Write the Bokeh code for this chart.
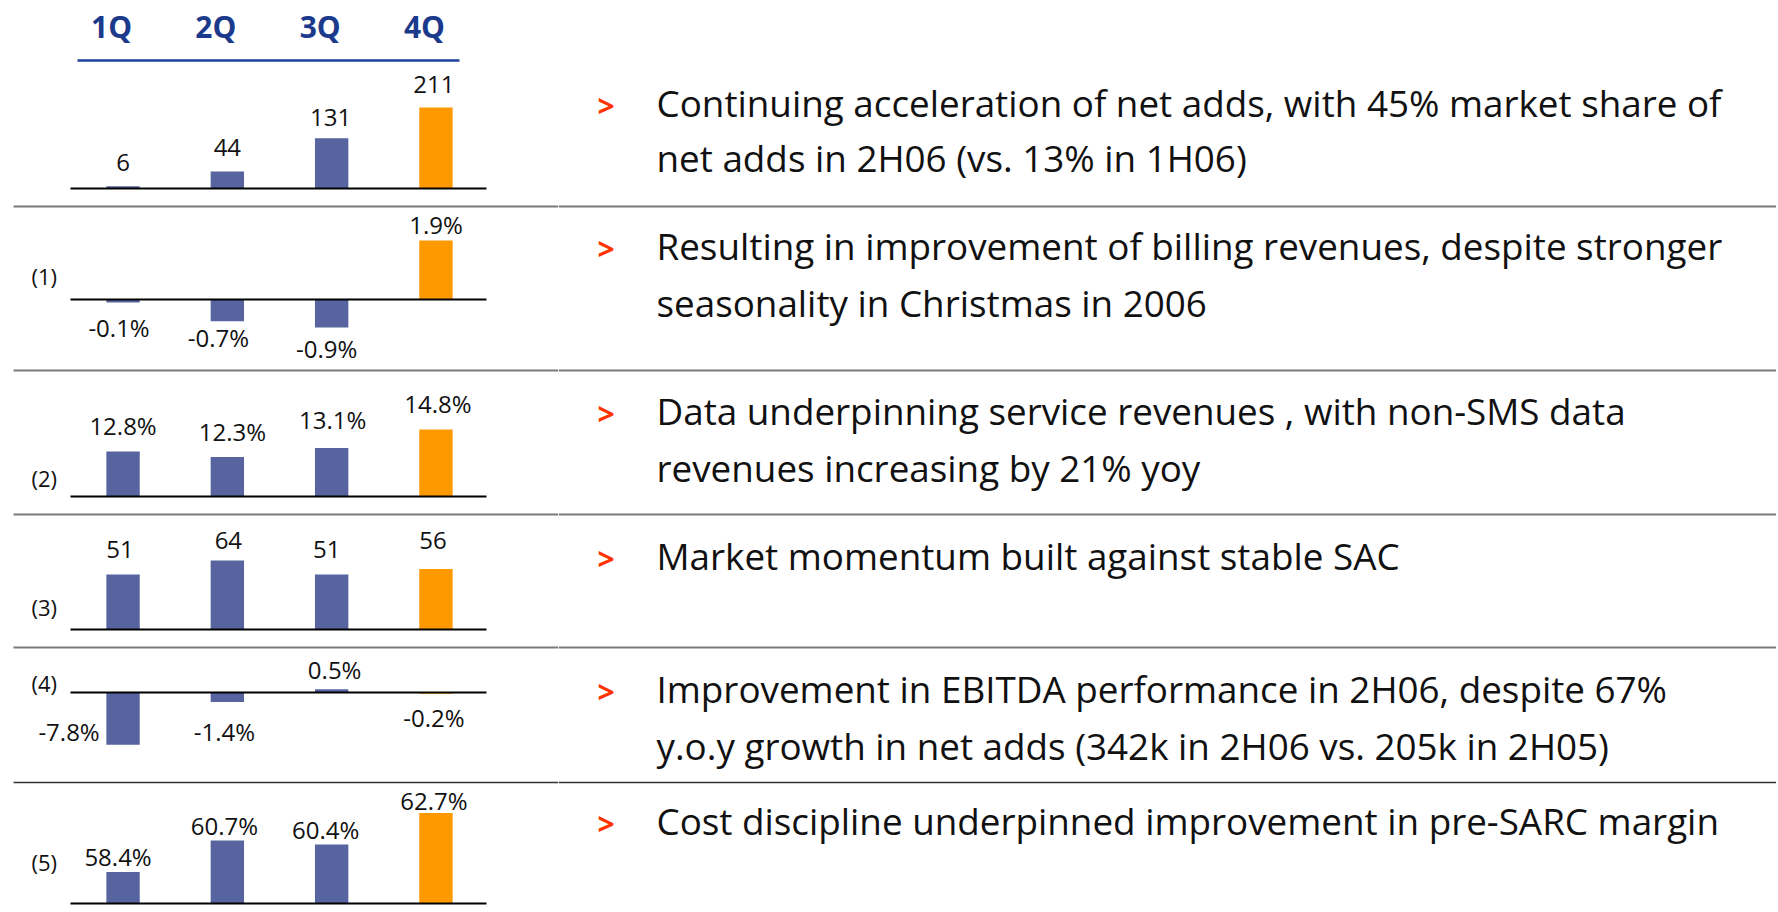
from bokeh.plotting import figure
from bokeh.layouts import row, column
from bokeh.models import Range1d, FactorRange, ColumnDataSource
from bokeh.core.properties import value
from bokeh.embed import file_html
from bokeh.resources import INLINE

# ---------------- data ----------------
quarters = ["1Q", "2Q", "3Q", "4Q"]
net_adds = [6, 44, 131, 211]
billing_rev_growth = [-0.1, -0.7, -0.9, 1.9]
data_share_service = [12.8, 12.3, 13.1, 14.8]
sac = [51, 64, 51, 56]
ebitda_growth = [-7.8, -1.4, 0.5, -0.2]
pre_sarc_margin = [58.4, 60.7, 60.4, 62.7]

net_adds_labels = ["6", "44", "131", "211"]
billing_labels = ["-0.1%", "-0.7%", "-0.9%", "1.9%"]
data_labels = ["12.8%", "12.3%", "13.1%", "14.8%"]
sac_labels = ["51", "64", "51", "56"]
ebitda_labels = ["-7.8%", "-1.4%", "0.5%", "-0.2%"]
margin_labels = ["58.4%", "60.7%", "60.4%", "62.7%"]

footnotes = ["", "(1)", "(2)", "(3)", "(4)", "(5)"]

bullets = [
    ["Continuing acceleration of net adds, with 45% market share of",
     "net adds in 2H06 (vs. 13% in 1H06)"],
    ["Resulting in improvement of billing revenues, despite stronger",
     "seasonality in Christmas in 2006"],
    ["Data underpinning service revenues , with non-SMS data",
     "revenues increasing by 21% yoy"],
    ["Market momentum built against stable SAC"],
    ["Improvement in EBITDA performance in 2H06, despite 67%",
     "y.o.y growth in net adds (342k in 2H06 vs. 205k in 2H05)"],
    ["Cost discipline underpinned improvement in pre-SARC margin"],
]

series = [net_adds, billing_rev_growth, data_share_service, sac, ebitda_growth, pre_sarc_margin]
series_labels = [net_adds_labels, billing_labels, data_labels, sac_labels, ebitda_labels, margin_labels]

# ---------------- layout / style ----------------
FONT = value("Open Sans")
BLUE = "#5764A0"
ORANGE = "#FF9900"
bar_colors = [BLUE, BLUE, BLUE, ORANGE]

LABEL_FS = 24
BODY_FS = 36.8
HEAD_FS = 30
NOTE_FS = 22
MID = 0.39           # rendered middle sits this many em above the alphabetic baseline

LEFT_W = 558
RIGHT_W = 1218
UNIT = 104.3                                   # px per category slot
PAD_SIDE = (LEFT_W / UNIT - len(quarters)) / 2  # synthetic padding each side
BAR_W = 0.32

band_edges = [0, 208, 372, 516, 649, 784, 910]
sep_y = [206, 370, 514, 647, 782, None]
sep_style = [("#7a7a7a", 2)] * 4 + [("#333333", 1.5), None]

# per chart: baseline px, px per unit, value at baseline, label nudges (to text baseline), note y
chart_layout = [
    dict(base=188, scale=81 / 211, floor=0, dy=[-14, -15, -11, -14], dx=[0, 0, -1, -2], note_y=None),
    dict(base=299, scale=31, floor=0, dy=[34, 26, 30, -7], dx=[-4, -9, -5, 0], note_y=275),
    dict(base=496, scale=11, floor=8.7, dy=[-17, -16, -19, -17], dx=[0, 5, 1, 2], note_y=477),
    dict(base=629, scale=1.08, floor=0, dy=[-16, -11, -16, -19], dx=[-3, 1, -5, -3], note_y=606),
    dict(base=692, scale=6.7, floor=0, dy=[-4, 39, -10, 33], dx=[-54, -3, 3, -2], note_y=682),
    dict(base=903, scale=13.7, floor=56.1, dy=[-6, -6, -6, -3], dx=[-5, -3, -6, -2], note_y=861),
]

text_baselines = [[117, 172], [260, 317], [425, 482], [570], [703, 760], [835]]


def sx(ref_px):
    return ref_px / UNIT - PAD_SIDE


def bare(fig):
    fig.grid.grid_line_color = None
    fig.background_fill_color = "white"
    fig.border_fill_color = "white"
    return fig


rows = []
for k in range(6):
    top, bot = band_edges[k], band_edges[k + 1]
    h = bot - top
    cfg = chart_layout[k]
    base, sc, fl = cfg["base"], cfg["scale"], cfg["floor"]

    def sy(ref_px, base=base, sc=sc, fl=fl):
        return fl + (base - ref_px) / sc

    p = bare(figure(width=LEFT_W, height=h, title=None,
                    x_range=FactorRange(*quarters, range_padding=PAD_SIDE, range_padding_units="absolute"),
                    y_range=Range1d(sy(bot), sy(top)),
                    output_backend="svg", toolbar_location=None, min_border=0,
                    x_axis_location=None, y_axis_location=None, outline_line_color=None))

    dy_mid = [d - MID * LABEL_FS for d in cfg["dy"]]
    src = ColumnDataSource(dict(q=quarters, v=series[k], lab=series_labels[k],
                                c=bar_colors, dx=cfg["dx"], dy=dy_mid))
    p.vbar(x="q", top="v", bottom=fl, width=BAR_W, fill_color="c", line_color=None, source=src)
    p.text(x="q", y="v", text="lab", x_offset="dx", y_offset="dy", source=src,
           text_align="center", text_baseline="middle", text_font=FONT,
           text_font_size=f"{LABEL_FS}px", text_color="#111111")
    # baseline
    p.segment(x0=[sx(70)], x1=[sx(486)], y0=[fl], y1=[fl], line_color="black", line_width=2)

    if cfg["note_y"] is not None:
        p.text(x=[sx(31)], y=[sy(cfg["note_y"])], text=[footnotes[k]], text_align="left",
               text_baseline="middle", text_font=FONT, text_font_size=f"{NOTE_FS}px",
               text_color="#111111")

    if k == 0:
        p.text(x=quarters, y=[sy(38 - MID * HEAD_FS)] * 4, text=quarters, x_offset=-11.5,
               text_align="center", text_baseline="middle", text_font=FONT,
               text_font_size=f"{HEAD_FS}px", text_font_style="bold", text_color="#1B3A8C")
        p.segment(x0=[sx(77)], x1=[sx(459)], y0=[sy(60)], y1=[sy(60)],
                  line_color="#1F3F9A", line_width=2.5)

    if sep_y[k] is not None:
        col, lw = sep_style[k]
        p.segment(x0=[sx(13)], x1=[sx(LEFT_W + 20)], y0=[sy(sep_y[k])], y1=[sy(sep_y[k])],
                  line_color=col, line_width=lw)

    # ---------- text panel ----------
    t = bare(figure(width=RIGHT_W, height=h, title=None,
                    x_range=Range1d(0, RIGHT_W), y_range=Range1d(h, 0),
                    output_backend="svg", toolbar_location=None, min_border=0,
                    x_axis_location=None, y_axis_location=None, outline_line_color=None))
    lines = bullets[k]
    ys = [b - top - MID * BODY_FS for b in text_baselines[k]]
    t.text(x=[597 - LEFT_W], y=[text_baselines[k][0] - top - MID * 30], text=[">"],
           text_align="left", text_baseline="middle",
           text_font=FONT, text_font_size="30px", text_font_style="bold", text_color="#FF3300")
    t.text(x=[656 - LEFT_W] * len(lines), y=ys, text=lines, text_align="left",
           text_baseline="middle", text_font=FONT, text_font_size=f"{BODY_FS}px", text_color="#111111")
    if sep_y[k] is not None:
        col, lw = sep_style[k]
        t.segment(x0=[0], x1=[RIGHT_W], y0=[sep_y[k] - top], y1=[sep_y[k] - top],
                  line_color=col, line_width=lw)

    rows.append(row(p, t))

layout = column(*rows)
open("out.html", "w").write(file_html(layout, INLINE))
